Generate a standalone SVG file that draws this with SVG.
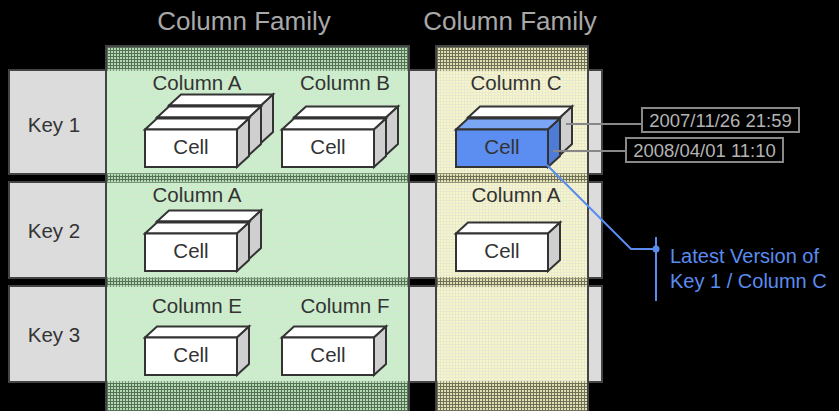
<svg xmlns="http://www.w3.org/2000/svg" width="839" height="411" viewBox="0 0 839 411">
<style>
text{font-family:"Liberation Sans",Arial,sans-serif}
.cf{font-size:26px;fill:#a8a8a8}
.key{font-size:20.5px;fill:#333}
.col{font-size:20.5px;fill:#333}
.cell{font-size:20.5px;fill:#333}
.row{fill:#dcdcdc;stroke:#444;stroke-width:2}
.pan{stroke:#444;stroke-width:2}
.bx{stroke:#333;stroke-width:2;stroke-linejoin:miter}
.fr{fill:#fff}
.tp{fill:#fff}
.sd{fill:#cfcfcf}
.ts{fill:#000;stroke:#888;stroke-width:2}
.tst{font-size:18.5px;fill:#b4b4b4}
.lead{stroke:#888;stroke-width:2;fill:none}
.blue{stroke:#5a8cf0;stroke-width:2;fill:none}
.bt{font-size:20px;fill:#5a8cf0}
</style>
<defs>
<pattern id="pg" width="3" height="3" patternUnits="userSpaceOnUse">
<rect x="0" y="0" width="2" height="2" fill="#c4f4c4" opacity="0.9"/>
<rect x="2" y="0" width="1" height="3" fill="#c4f4c4" opacity="0.45"/>
<rect x="0" y="2" width="2" height="1" fill="#c4f4c4" opacity="0.45"/>
</pattern>
<pattern id="py" width="3" height="3" patternUnits="userSpaceOnUse">
<rect x="0" y="0" width="2" height="2" fill="#f9f9c6" opacity="0.9"/>
<rect x="2" y="0" width="1" height="3" fill="#f9f9c6" opacity="0.45"/>
<rect x="0" y="2" width="2" height="1" fill="#f9f9c6" opacity="0.45"/>
</pattern>
<g id="box">
<path class="bx tp" d="M0,0 L12,-11 L104,-11 L92,0 Z"/>
<path class="bx sd" d="M92,0 L104,-11 L104,26.5 L92,37.5 Z"/>
<rect class="bx fr" x="0" y="0" width="92" height="37.5"/>
</g>
</defs>
<rect x="0" y="0" width="839" height="411" fill="#000"/>

<g id="rows">
<g id="row-key1"><rect class="row" x="9" y="70" width="593" height="104"/><text class="key" x="54" y="132" text-anchor="middle">Key 1</text></g>
<g id="row-key2"><rect class="row" x="9" y="182" width="593" height="96"/><text class="key" x="54" y="238" text-anchor="middle">Key 2</text></g>
<g id="row-key3"><rect class="row" x="9" y="286" width="593" height="96"/><text class="key" x="54" y="342" text-anchor="middle">Key 3</text></g>
</g>

<g id="family1">
<rect x="106" y="46" width="303" height="370" fill="url(#pg)"/>
<rect class="pan" x="106" y="46" width="303" height="370" fill="none"/>
<text class="cf" x="244" y="30" text-anchor="middle">Column Family</text>
</g>
<g id="family2">
<rect x="436" y="46" width="152" height="370" fill="url(#py)"/>
<rect class="pan" x="436" y="46" width="152" height="370" fill="none"/>
<text class="cf" x="510" y="30" text-anchor="middle">Column Family</text>
</g>

<g id="k1-colA">
<text class="col" x="197" y="90" text-anchor="middle">Column A</text>
<use href="#box" x="169" y="105.5"/>
<use href="#box" x="157" y="117.5"/>
<use href="#box" x="145" y="129.5"/>
<text class="cell" x="191" y="154" text-anchor="middle">Cell</text>
</g>
<g id="k1-colB">
<text class="col" x="345" y="90" text-anchor="middle">Column B</text>
<use href="#box" x="294" y="117.5"/>
<use href="#box" x="282" y="129.5"/>
<text class="cell" x="328" y="154" text-anchor="middle">Cell</text>
</g>
<g id="k1-colC">
<text class="col" x="516" y="90" text-anchor="middle">Column C</text>
<use href="#box" x="468" y="117.5"/>
<path class="bx" fill="#7aa6f5" d="M456,129.5 L468,118.5 L560,118.5 L548,129.5 Z"/>
<path class="bx" fill="#4e7bd6" d="M548,129.5 L560,118.5 L560,156 L548,167 Z"/>
<rect class="bx" fill="#5b8ef0" x="456" y="129.5" width="92" height="37.5"/>
<text class="cell" x="502" y="154" text-anchor="middle">Cell</text>
</g>
<g id="k2-colA">
<text class="col" x="197" y="202" text-anchor="middle">Column A</text>
<use href="#box" x="157" y="221.5"/>
<use href="#box" x="145" y="233.5"/>
<text class="cell" x="191" y="258" text-anchor="middle">Cell</text>
</g>
<g id="k2-colA2">
<text class="col" x="516" y="202" text-anchor="middle">Column A</text>
<use href="#box" x="456" y="233.5"/>
<text class="cell" x="502" y="258" text-anchor="middle">Cell</text>
</g>
<g id="k3-colE">
<text class="col" x="197" y="313" text-anchor="middle">Column E</text>
<use href="#box" x="145" y="337.5"/>
<text class="cell" x="191" y="362" text-anchor="middle">Cell</text>
</g>
<g id="k3-colF">
<text class="col" x="345" y="313" text-anchor="middle">Column F</text>
<use href="#box" x="282" y="337.5"/>
<text class="cell" x="328" y="362" text-anchor="middle">Cell</text>
</g>

<g id="ts1">
<rect class="ts" x="642" y="108" width="157" height="24"/>
<text class="tst" x="720.5" y="127" text-anchor="middle">2007/11/26 21:59</text>
</g>
<g id="ts2">
<rect class="ts" x="626" y="138" width="157" height="24"/>
<text class="tst" x="704.5" y="157" text-anchor="middle">2008/04/01 11:10</text>
</g>
<g id="note">
<text class="bt" x="670" y="263">Latest Version of</text>
<text class="bt" x="670" y="288">Key 1 / Column C</text>
</g>

<g id="connectors">
<line class="lead" x1="566" y1="124" x2="642" y2="124"/>
<line class="lead" x1="553" y1="151" x2="626" y2="151"/>
<polyline class="blue" points="547,165 631,249 656,249"/>
<line class="blue" x1="656" y1="237" x2="656" y2="301"/>
<circle cx="656" cy="249" r="3.5" fill="#5a8cf0"/>
</g>
</svg>
